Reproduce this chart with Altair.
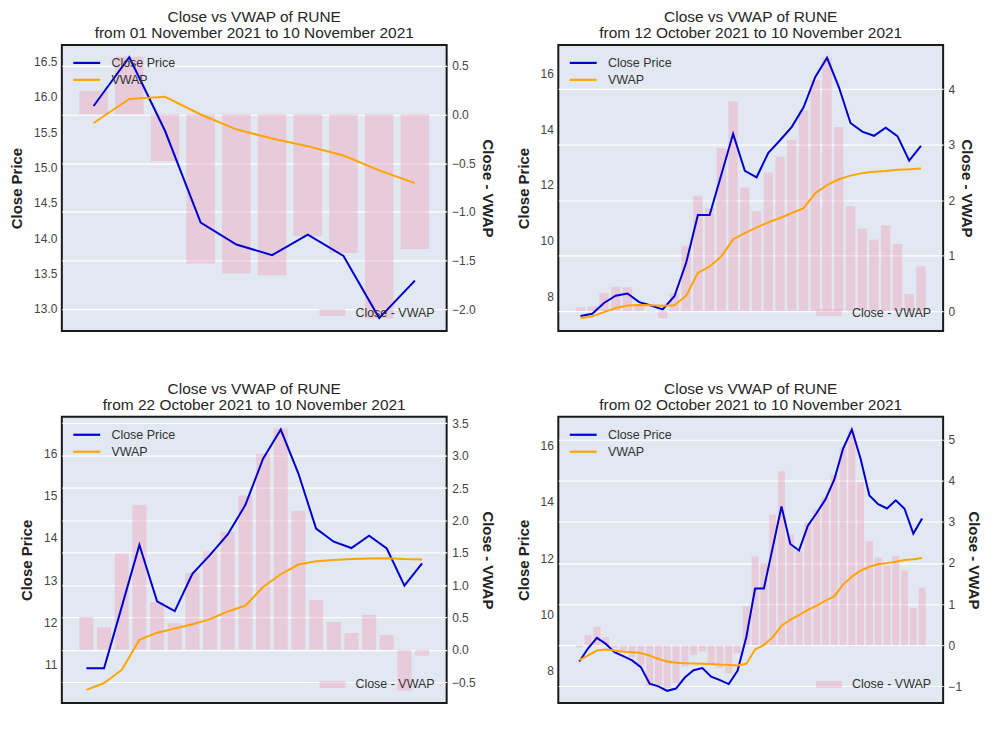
import altair as alt
import pandas as pd

# ---------------- data ----------------
dates = [d.strftime("%Y-%m-%d") for d in pd.date_range("2021-10-02", "2021-11-10")]

close = [8.33, 8.80, 9.17, 8.96, 8.66, 8.52, 8.37, 8.13, 7.54, 7.45,
         7.29, 7.37, 7.76, 8.02, 8.10, 7.79, 7.67, 7.53, 8.00, 9.20,
         10.92, 10.92, 12.37, 13.83, 12.50, 12.27, 13.15, 13.60, 14.08, 14.78,
         15.87, 16.56, 15.52, 14.22, 13.91, 13.76, 14.05, 13.75, 12.87, 13.40]

vwap_10 = [15.63, 15.97, 16.00, 15.75, 15.54, 15.41, 15.30, 15.17, 14.96, 14.78]

vwap_30 = [7.22, 7.28, 7.43, 7.58, 7.67, 7.69, 7.68, 7.66, 7.68, 8.02,
           8.84, 9.07, 9.43, 10.05, 10.27, 10.47, 10.65, 10.81, 10.99, 11.16,
           11.70, 11.99, 12.20, 12.33, 12.42, 12.47, 12.50, 12.54, 12.56, 12.59]

vwap_20 = [10.41, 10.57, 10.88, 11.59, 11.76, 11.86, 11.96, 12.08, 12.26, 12.40,
           12.84, 13.14, 13.37, 13.45, 13.48, 13.50, 13.51, 13.52, 13.50, 13.49]

vwap_40 = [8.38, 8.55, 8.72, 8.76, 8.72, 8.68, 8.66, 8.63, 8.54, 8.42,
           8.33, 8.29, 8.27, 8.26, 8.25, 8.24, 8.22, 8.21, 8.19, 8.25,
           8.76, 8.92, 9.19, 9.60, 9.81, 9.98, 10.16, 10.31, 10.49, 10.64,
           11.06, 11.34, 11.55, 11.69, 11.78, 11.82, 11.87, 11.93, 11.96, 12.00]

start_labels = ["01 November 2021", "12 October 2021", "22 October 2021", "02 October 2021"]
end_label = "10 November 2021"

left_ticks_1 = [13.0, 13.5, 14.0, 14.5, 15.0, 15.5, 16.0, 16.5]
right_ticks_1 = [-2.0, -1.5, -1.0, -0.5, 0.0, 0.5]
left_ticks_2 = [8, 10, 12, 14, 16]
right_ticks_2 = [0, 1, 2, 3, 4]
left_ticks_3 = [11, 12, 13, 14, 15, 16]
right_ticks_3 = [-0.5, 0.0, 0.5, 1.0, 1.5, 2.0, 2.5, 3.0, 3.5]
left_ticks_4 = [8, 10, 12, 14, 16]
right_ticks_4 = [-1, 0, 1, 2, 3, 4, 5]

# ---------------- styling ----------------
FONT = "Liberation Sans"
BLUE = "mediumblue"
ORANGE = "orange"
PINK = "#f0a0b8"
BG = "#E2E8F2"
W, H = 386, 287


def panel(n, vwap, start, ldom, lticks, lfmt, rdom, rticks, rfmt):
    df = pd.DataFrame({
        "idx": list(range(n)),
        "date": dates[-n:],
        "Close Price": close[-n:],
        "VWAP": vwap,
    })
    m = 0.05 * (n - 0.2)
    xscale = alt.Scale(domain=[-0.4 - m, n - 1 + 0.4 + m], nice=False, zero=False)

    bars = alt.Chart().transform_calculate(
        lo="datum.idx - 0.4",
        hi="datum.idx + 0.4",
        diff="datum['Close Price'] - datum['VWAP']",
        lbl="'Close - VWAP'",
    ).mark_bar(opacity=0.4).encode(
        x=alt.X("lo:Q", scale=xscale, axis=None),
        x2="hi:Q",
        y=alt.Y("diff:Q", scale=alt.Scale(domain=rdom, nice=False, zero=False),
                axis=alt.Axis(orient="right", values=rticks, format=rfmt,
                              title="Close - VWAP", titlePadding=4)),
        y2=alt.datum(0),
        fill=alt.Fill("lbl:N", scale=alt.Scale(domain=["Close - VWAP"], range=[PINK]),
                      legend=alt.Legend(orient="bottom-right", offset=12, title=None,
                                        symbolType="M-2,-0.54H2V0.54H-2Z", symbolSize=169,
                                        symbolOpacity=0.4, symbolStrokeWidth=0,
                                        labelOffset=16.5)),
    )

    lines = alt.Chart().transform_fold(
        ["Close Price", "VWAP"], as_=["series", "value"]
    ).mark_line(strokeWidth=2).encode(
        x=alt.X("idx:Q", scale=xscale, axis=None),
        y=alt.Y("value:Q", scale=alt.Scale(domain=ldom, nice=False, zero=False),
                axis=alt.Axis(orient="left", values=lticks, format=lfmt,
                              title="Close Price", titlePadding=9)),
        color=alt.Color("series:N",
                        scale=alt.Scale(domain=["Close Price", "VWAP"], range=[BLUE, ORANGE]),
                        legend=alt.Legend(orient="none", legendX=17, legendY=10, title=None,
                                          symbolType="M-2,0H2", symbolSize=182,
                                          symbolStrokeWidth=2.2, labelOffset=16.75,
                                          rowPadding=2)),
    )

    return alt.layer(bars, lines, data=df).resolve_scale(
        y="independent", color="independent", fill="independent"
    ).properties(
        width=W, height=H,
        title=alt.TitleParams(
            text=["Close vs VWAP of RUNE", f"from {start} to {end_label}"],
            fontSize=15.5, font=FONT, fontWeight="normal", color="#262626",
            anchor="middle", frame="group", offset=3, lineHeight=16.5,
        ),
    )


p1 = panel(10, vwap_10, start_labels[0], [12.686, 16.734], left_ticks_1, ".1f",
           [-2.22, 0.71], right_ticks_1, ".1f")
p2 = panel(30, vwap_30, start_labels[1], [6.75, 17.02], left_ticks_2, "d",
           [-0.36, 4.80], right_ticks_2, "d")
p3 = panel(20, vwap_20, start_labels[2], [10.10, 16.86], left_ticks_3, "d",
           [-0.82, 3.60], right_ticks_3, ".1f")
p4 = panel(40, vwap_40, start_labels[3], [6.86, 17.01], left_ticks_4, "d",
           [-1.40, 5.55], right_ticks_4, "d")

chart = alt.concat(
    p1, p2, p3, p4, columns=2,
    spacing=alt.RowColnumber(row=86, column=112),
    bounds="flush",
).resolve_scale(
    x="independent", y="independent", color="independent", fill="independent"
).resolve_legend(
    color="independent", fill="independent"
).properties(
    padding={"left": 0, "top": 0, "right": 5, "bottom": 5},
    background="white",
).configure_view(
    fill=BG, stroke="#1a1a1a", strokeWidth=2,
).configure_axis(
    labelFont=FONT, labelFontSize=12, labelColor="#444444",
    titleFont=FONT, titleFontSize=15, titleFontWeight="bold", titleColor="#222222",
    domain=False, ticks=False, tickSize=0, labelPadding=5,
    grid=True, gridColor="white", gridWidth=1.2, gridOpacity=1,
).configure_legend(
    labelFont=FONT, labelFontSize=12.5, labelColor="#333333", padding=0,
)

chart.save("out.html", embed_options={"renderer": "svg", "actions": False})
